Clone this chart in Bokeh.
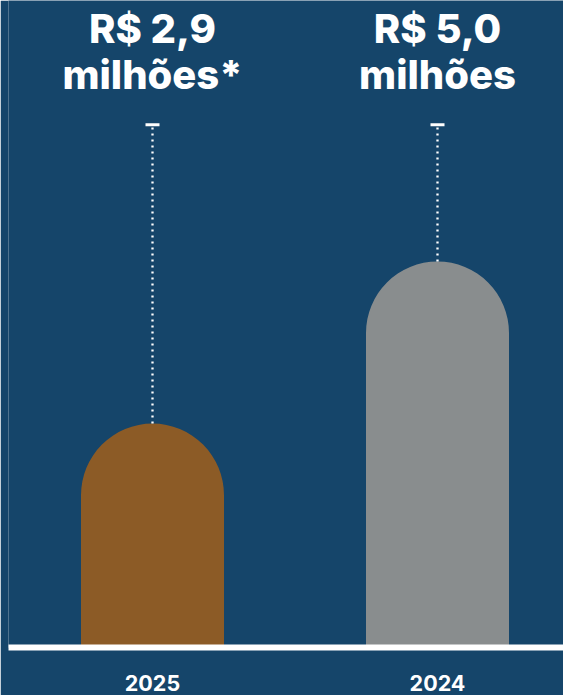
import numpy as np
from bokeh.plotting import figure
from bokeh.models import Range1d, ColumnDataSource
from bokeh.core.properties import value
from bokeh.embed import file_html
from bokeh.resources import INLINE

# ---- data ----
categories = ["2025", "2024"]
values = [2.9, 5.0]
value_labels = ["R$ 2,9\nmilhões*", "R$ 5,0\nmilhões"]
bar_colors = ["#8C5B26", "#898D8E"]

# ---- style / layout ----
BG = "#15456A"
HEAVY_FONT = "'Inter ExtraBold', Inter"
W, H = 563, 695
LEFT_PAD = 8
BOTTOM_PAD = 48
PX_PER_UNIT = 77.2
PX_PER_CAT = 285.0
FIRST_CENTER = 152.0
FRAME_W = W - LEFT_PAD
FRAME_H = H - BOTTOM_PAD
y_top = FRAME_H / PX_PER_UNIT
leader_top = (FRAME_H - 124.3) / PX_PER_UNIT
x_start = -(FIRST_CENTER - LEFT_PAD) / PX_PER_CAT
x_end = x_start + FRAME_W / PX_PER_CAT

xs = list(range(len(categories)))
src = ColumnDataSource(dict(x=xs, top=values, label=value_labels, color=bar_colors,
                            lead=[leader_top] * len(xs)))

p = figure(width=W, height=H, output_backend="svg", toolbar_location=None,
           x_range=Range1d(x_start, x_end), y_range=Range1d(0, y_top),
           min_border_left=LEFT_PAD, min_border_right=0, min_border_top=0,
           min_border_bottom=BOTTOM_PAD)
p.background_fill_color = BG
p.border_fill_color = BG
p.outline_line_color = None
p.grid.visible = False
p.yaxis.visible = False

p.vbar(x="x", top="top", bottom=0, width=143 / PX_PER_CAT, fill_color="color", line_color=None,
       border_radius=(72, 72, 0, 0), source=src)

p.segment(x0="x", y0="top", x1="x", y1="lead", line_color="white", line_width=2.3,
          line_dash="2 4", source=src)
p.scatter(x="x", y="lead", marker="dash", size=14, line_width=3, line_color="white", source=src)

p.text(x="x", y=y_top - 3 / PX_PER_UNIT, text="label", text_align="center", text_baseline="top",
       text_font=value(HEAVY_FONT), text_font_style="bold", text_font_size="40px",
       text_color="white", text_line_height=0.94, source=src)

ax = p.xaxis[0]
ax.ticker = xs
ax.major_label_overrides = {i: c for i, c in enumerate(categories)}
ax.axis_line_color = "white"
ax.axis_line_width = 6
ax.major_tick_line_color = None
ax.minor_tick_line_color = None
ax.major_label_text_color = "white"
ax.major_label_text_font = "Inter"
ax.major_label_text_font_style = "bold"
ax.major_label_text_font_size = "21.5px"
ax.major_label_standoff = 21

open("out.html", "w").write(file_html(p, INLINE))
